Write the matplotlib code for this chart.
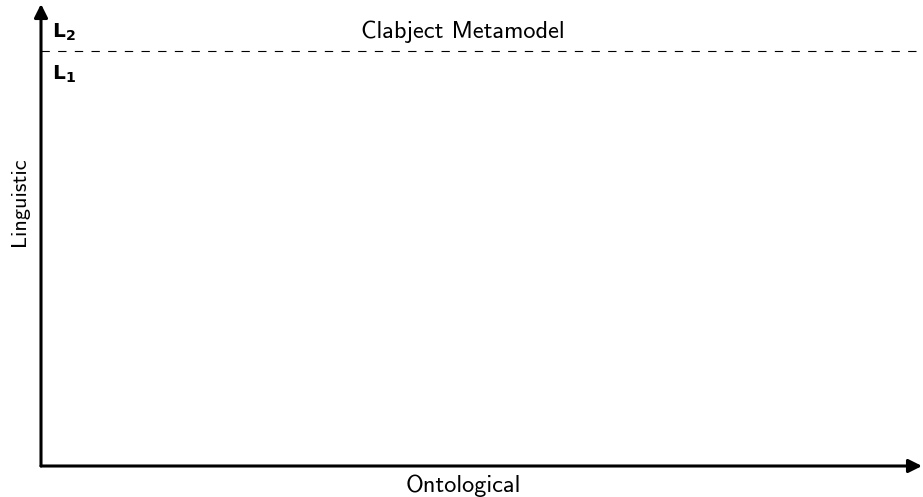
import matplotlib.pyplot as plt
from matplotlib.patches import FancyArrowPatch

plt.rcParams['mathtext.fontset'] = 'custom'
plt.rcParams['mathtext.bf'] = 'DejaVu Sans:bold'

# diagram labels
x_label = "Ontological"
y_label = "Linguistic"
level_labels = [r"$\mathbf{L_2}$", r"$\mathbf{L_1}$"]
level_names = ["Clabject Metamodel"]

# layout in pixel units (figure is 923 x 497)
W, H = 923, 497
origin = (41, 466)
x_end = 922
y_end = 4
split_y = 51

fig = plt.figure(figsize=(W / 100, H / 100), dpi=100)
ax = fig.add_axes([0, 0, 1, 1])
ax.set_xlim(0, W)
ax.set_ylim(H, 0)
ax.axis("off")

# axes arrows
for end in [(x_end, origin[1]), (origin[0], y_end)]:
    ax.add_patch(FancyArrowPatch(origin, end, arrowstyle="-|>,head_length=8,head_width=4",
                                 mutation_scale=1, lw=2.2, color="black",
                                 shrinkA=0, shrinkB=0))

# level separator
ax.plot([origin[0], x_end], [split_y, split_y], color="black", lw=0.8,
        dashes=(7.5, 7.5))

ax.text(52, 38, level_labels[0], fontsize=14.5, va="baseline", ha="left")
ax.text(52, 80, level_labels[1], fontsize=14.5, va="baseline", ha="left")
ax.text(463, 38, level_names[0], fontsize=17.5, family="cmss10", ha="center",
        va="baseline")

ax.text(463, 492, x_label, fontsize=17.5, family="cmss10", ha="center",
        va="baseline")
ax.text(20, 202, y_label, fontsize=16, family="cmss10", ha="center", va="center",
        rotation=90)

fig.savefig("out.png", dpi=100)
